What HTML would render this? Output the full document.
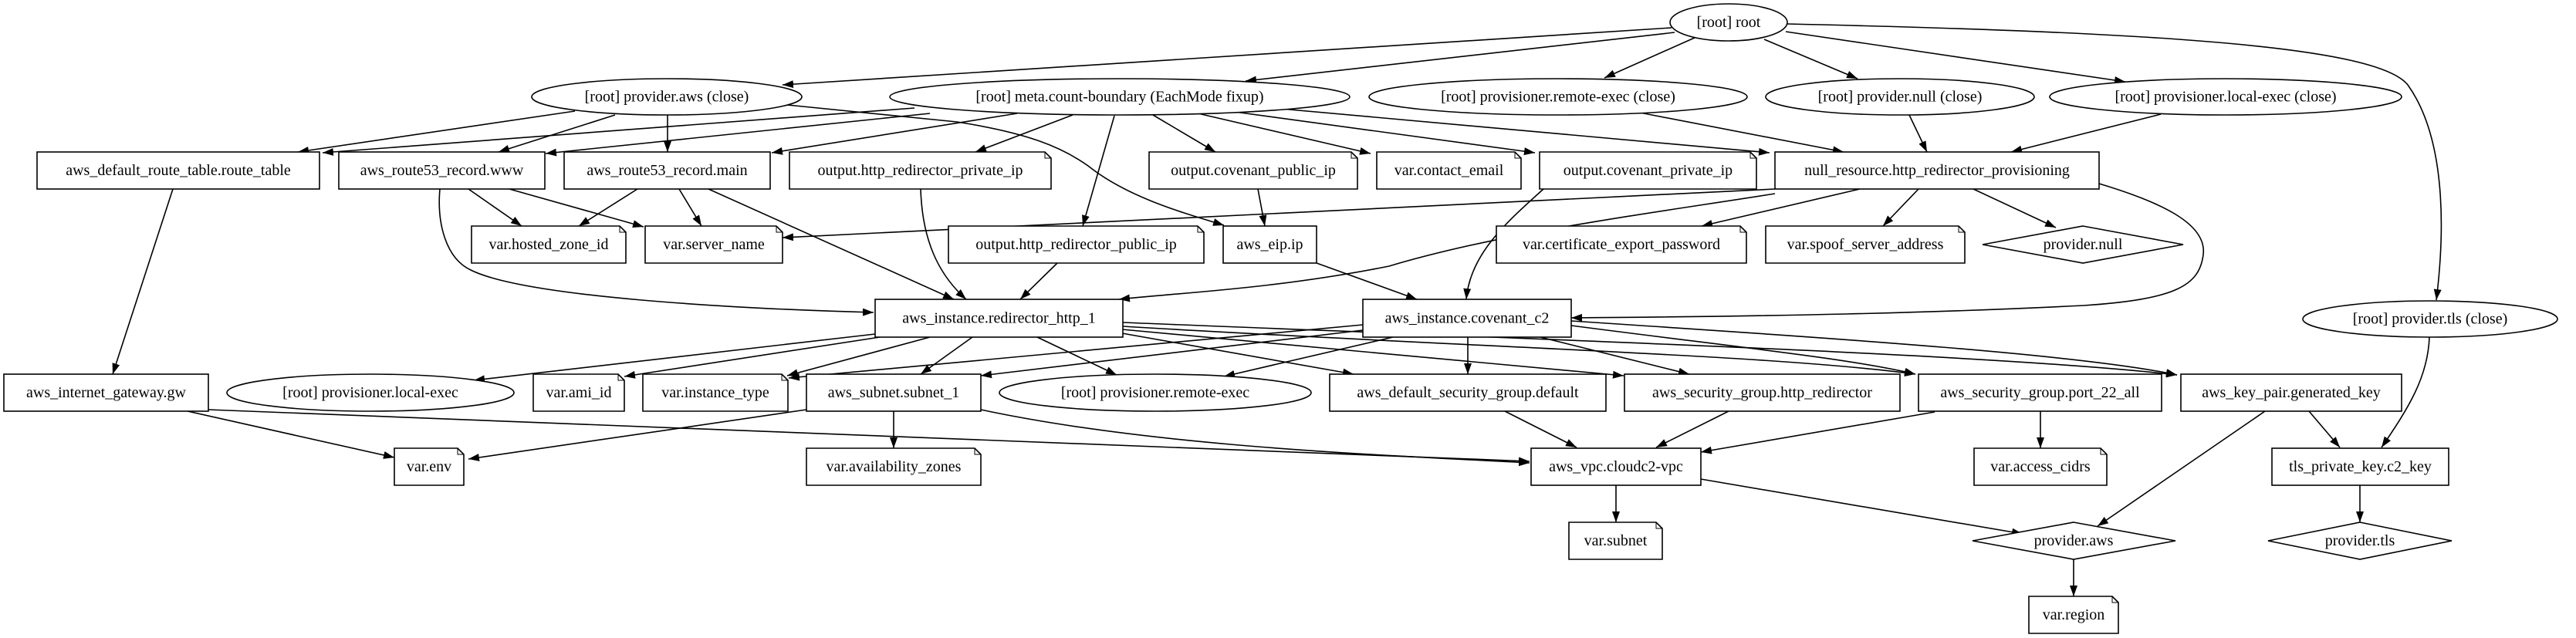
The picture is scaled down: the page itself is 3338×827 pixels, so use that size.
<!DOCTYPE html>
<html><head><meta charset="utf-8"><style>
html,body{margin:0;padding:0;background:#fff;}
svg{display:block;}
text{font-family:"Liberation Serif",serif;font-size:20px;fill:#000;text-anchor:middle;dominant-baseline:central;}
.n{fill:#fff;stroke:#000;stroke-width:1.6;}
.e{fill:none;stroke:#000;stroke-width:1.6;marker-end:url(#a);}
.f{fill:none;stroke:#000;stroke-width:1;}
</style></head><body>
<svg width="3338" height="827" viewBox="0 0 3338 827" xmlns="http://www.w3.org/2000/svg">
<defs><marker id="a" markerUnits="userSpaceOnUse" markerWidth="16" markerHeight="12" refX="14" refY="5" orient="auto"><path d="M0,0 L14,5 L0,10 z" fill="#000"/></marker></defs>

<g>
<path class="e" d="M2166,36 L1014,110"/>
<path class="e" d="M2170,42 L1614,105"/>
<path class="e" d="M2198,48 L2079,101"/>
<path class="e" d="M2286,51 L2407,102"/>
<path class="e" d="M2314,41 L2754,106"/>
<path class="e" d="M2316,31 C2800,42 3080,60 3120,110 C3170,180 3168,300 3157,389"/>

<path class="e" d="M745,144 L386,197"/>
<path class="e" d="M797,149 L646,197"/>
<path class="e" d="M865,149 L865,197"/>
<path class="e" d="M1020,136 L1240,158 C1330,172 1375,190 1410,215 C1460,255 1530,275 1586,292"/>

<path class="e" d="M1185,140 L418,198"/>
<path class="e" d="M1205,147 L707,199"/>
<path class="e" d="M1318,147 L1000,198"/>
<path class="e" d="M1390,149 L1264,197"/>
<path class="e" d="M1444,150 L1403,293"/>
<path class="e" d="M1494,149 L1575,197"/>
<path class="e" d="M1548,146 L1776,199"/>
<path class="e" d="M1600,145 L1989,198"/>
<path class="e" d="M1660,141 L2293,198"/>

<path class="e" d="M2125,146 L2389,197"/>
<path class="e" d="M2474,149 L2497,197"/>
<path class="e" d="M2800,148 L2606,197"/>

<path class="e" d="M607,245 L676,293"/>
<path class="e" d="M660,245 L834,294"/>
<path class="e" d="M570,245 C566,290 578,335 610,350 C680,385 950,400 1132,405"/>
<path class="e" d="M826,245 L750,293"/>
<path class="e" d="M880,245 L909,293"/>
<path class="e" d="M918,245 L1236,388"/>
<path class="e" d="M224,245 L146,485"/>

<path class="e" d="M1193,245 C1195,310 1215,355 1252,388"/>
<path class="e" d="M1370,341 L1322,388"/>
<path class="e" d="M1630,245 L1639,293"/>
<path class="e" d="M2000,245 C1950,290 1905,330 1900,388"/>
<path class="e" d="M1706,341 L1836,388"/>

<path class="e" d="M2300,245 L1014,308"/>
<path class="e" d="M2300,251 C2150,275 1950,300 1800,345 C1650,375 1520,380 1450,388"/>
<path class="e" d="M2410,245 L2205,293"/>
<path class="e" d="M2486,245 L2440,293"/>
<path class="e" d="M2557,245 L2664,295"/>
<path class="e" d="M2720,238 C2800,262 2860,290 2855,330 C2850,370 2820,388 2700,396 C2500,406 2300,410 2036,412"/>
<path class="e" d="M3148,437 C3146,490 3120,530 3086,580"/>

<path class="e" d="M1134,433 L614,493"/>
<path class="e" d="M1140,437 L809,488"/>
<path class="e" d="M1205,437 L1020,487"/>
<path class="e" d="M1766,421 L1022,490"/>
<path class="e" d="M1260,437 L1193,485"/>
<path class="e" d="M1766,428 L1271,487"/>
<path class="e" d="M1344,437 L1447,486"/>
<path class="e" d="M1805,437 L1586,488"/>
<path class="e" d="M1454,432 L1754,485"/>
<path class="e" d="M1902,437 L1902,485"/>
<path class="e" d="M1454,427 L2104,487"/>
<path class="e" d="M1996,437 L2189,485"/>
<path class="e" d="M1455,423 C1900,450 2300,460 2482,485"/>
<path class="e" d="M2036,422 C2250,450 2400,465 2482,485"/>
<path class="e" d="M1455,418 C2000,440 2600,460 2821,486"/>
<path class="e" d="M2036,416 C2400,440 2700,460 2821,486"/>

<path class="e" d="M1158,533 L1158,581"/>
<path class="e" d="M1045,531 L607,595"/>
<path class="e" d="M1271,531 C1500,580 1800,590 1982,600"/>
<path class="e" d="M243,533 L511,593"/>
<path class="e" d="M270,531 L1982,598"/>
<path class="e" d="M1950,533 L2043,580"/>
<path class="e" d="M2240,533 L2146,580"/>
<path class="e" d="M2507,534 L2204,586"/>
<path class="e" d="M2644,533 L2644,581"/>
<path class="e" d="M2935,533 L2718,682"/>
<path class="e" d="M2992,533 L3032,580"/>
<path class="e" d="M2094,629 L2094,677"/>
<path class="e" d="M2204,621 L2621,692"/>
<path class="e" d="M3058,629 L3058,677"/>
<path class="e" d="M2687,725 L2687,773"/>
</g>

<ellipse class="n" cx="2240" cy="29" rx="76" ry="24"/><text x="2240" y="29">[root] root</text>
<ellipse class="n" cx="864" cy="125.5" rx="175" ry="23.5"/><text x="864" y="125.5">[root] provider.aws (close)</text>
<ellipse class="n" cx="1451" cy="125.5" rx="298" ry="23.5"/><text x="1451" y="125.5">[root] meta.count-boundary (EachMode fixup)</text>
<ellipse class="n" cx="2019" cy="125.5" rx="245" ry="23.5"/><text x="2019" y="125.5">[root] provisioner.remote-exec (close)</text>
<ellipse class="n" cx="2462" cy="125.5" rx="174" ry="23.5"/><text x="2462" y="125.5">[root] provider.null (close)</text>
<ellipse class="n" cx="2884" cy="125.5" rx="228" ry="23.5"/><text x="2884" y="125.5">[root] provisioner.local-exec (close)</text>
<ellipse class="n" cx="3149" cy="413.5" rx="165" ry="23.5"/><text x="3149" y="413.5">[root] provider.tls (close)</text>
<ellipse class="n" cx="480" cy="509" rx="186" ry="24"/><text x="480" y="509">[root] provisioner.local-exec</text>
<ellipse class="n" cx="1497" cy="509" rx="202" ry="24"/><text x="1497" y="509">[root] provisioner.remote-exec</text>

<rect class="n" x="48" y="197" width="366" height="48"/><text x="231" y="221">aws_default_route_table.route_table</text>
<rect class="n" x="439" y="197" width="267" height="48"/><text x="572.5" y="221">aws_route53_record.www</text>
<rect class="n" x="731" y="197" width="267" height="48"/><text x="864.5" y="221">aws_route53_record.main</text>
<rect class="n" x="2300" y="197" width="420" height="48"/><text x="2510" y="221">null_resource.http_redirector_provisioning</text>
<rect class="n" x="1585" y="293" width="121" height="48"/><text x="1645.5" y="317">aws_eip.ip</text>
<rect class="n" x="1134" y="388" width="321" height="49"/><text x="1294.5" y="412.5">aws_instance.redirector_http_1</text>
<rect class="n" x="1766" y="388" width="270" height="49"/><text x="1901" y="412.5">aws_instance.covenant_c2</text>
<rect class="n" x="5" y="485" width="265" height="48"/><text x="137.5" y="509">aws_internet_gateway.gw</text>
<rect class="n" x="1045" y="485" width="226" height="48"/><text x="1158" y="509">aws_subnet.subnet_1</text>
<rect class="n" x="1723" y="485" width="358" height="48"/><text x="1902" y="509">aws_default_security_group.default</text>
<rect class="n" x="2105" y="485" width="357" height="48"/><text x="2283.5" y="509">aws_security_group.http_redirector</text>
<rect class="n" x="2486" y="485" width="315" height="48"/><text x="2643.5" y="509">aws_security_group.port_22_all</text>
<rect class="n" x="2826" y="485" width="286" height="48"/><text x="2969" y="509">aws_key_pair.generated_key</text>
<rect class="n" x="1984" y="581" width="220" height="48"/><text x="2094" y="605">aws_vpc.cloudc2-vpc</text>
<rect class="n" x="2944" y="581" width="229" height="48"/><text x="3058.5" y="605">tls_private_key.c2_key</text>

<g>
<path class="n" d="M1023,197 H1354 L1362,205 V245 H1023 Z"/><path class="f" d="M1354,197 V205 H1362"/><text x="1192.5" y="221">output.http_redirector_private_ip</text>
<path class="n" d="M1489,197 H1751 L1759,205 V245 H1489 Z"/><path class="f" d="M1751,197 V205 H1759"/><text x="1624" y="221">output.covenant_public_ip</text>
<path class="n" d="M1784,197 H1963 L1971,205 V245 H1784 Z"/><path class="f" d="M1963,197 V205 H1971"/><text x="1877.5" y="221">var.contact_email</text>
<path class="n" d="M1995,197 H2268 L2276,205 V245 H1995 Z"/><path class="f" d="M2268,197 V205 H2276"/><text x="2135.5" y="221">output.covenant_private_ip</text>

<path class="n" d="M611,293 H803 L811,301 V341 H611 Z"/><path class="f" d="M803,293 V301 H811"/><text x="711" y="317">var.hosted_zone_id</text>
<path class="n" d="M836,293 H1006 L1014,301 V341 H836 Z"/><path class="f" d="M1006,293 V301 H1014"/><text x="925" y="317">var.server_name</text>
<path class="n" d="M1229,293 H1552 L1560,301 V341 H1229 Z"/><path class="f" d="M1552,293 V301 H1560"/><text x="1394.5" y="317">output.http_redirector_public_ip</text>
<path class="n" d="M1939,293 H2255 L2263,301 V341 H1939 Z"/><path class="f" d="M2255,293 V301 H2263"/><text x="2101" y="317">var.certificate_export_password</text>
<path class="n" d="M2288,293 H2538 L2546,301 V341 H2288 Z"/><path class="f" d="M2538,293 V301 H2546"/><text x="2417" y="317">var.spoof_server_address</text>

<path class="n" d="M691,485 H801 L809,493 V533 H691 Z"/><path class="f" d="M801,485 V493 H809"/><text x="750" y="509">var.ami_id</text>
<path class="n" d="M833,485 H1013 L1021,493 V533 H833 Z"/><path class="f" d="M1013,485 V493 H1021"/><text x="927" y="509">var.instance_type</text>

<path class="n" d="M511,581 H593 L601,589 V629 H511 Z"/><path class="f" d="M593,581 V589 H601"/><text x="556" y="605">var.env</text>
<path class="n" d="M1045,581 H1263 L1271,589 V629 H1045 Z"/><path class="f" d="M1263,581 V589 H1271"/><text x="1158" y="605">var.availability_zones</text>
<path class="n" d="M2558,581 H2722 L2730,589 V629 H2558 Z"/><path class="f" d="M2722,581 V589 H2730"/><text x="2644" y="605">var.access_cidrs</text>

<path class="n" d="M2033,677 H2146 L2154,685 V725 H2033 Z"/><path class="f" d="M2146,677 V685 H2154"/><text x="2093.5" y="701">var.subnet</text>
<path class="n" d="M2629,773 H2737 L2745,781 V821 H2629 Z"/><path class="f" d="M2737,773 V781 H2745"/><text x="2687" y="797">var.region</text>
</g>

<polygon class="n" points="2699,293 2829,317 2699,341 2569,317"/><text x="2699" y="317">provider.null</text>
<polygon class="n" points="2687,677 2819,701 2687,725 2556,701"/><text x="2687" y="701">provider.aws</text>
<polygon class="n" points="3058,677 3177,701 3058,725 2939,701"/><text x="3058" y="701">provider.tls</text>
</svg>
</body></html>
